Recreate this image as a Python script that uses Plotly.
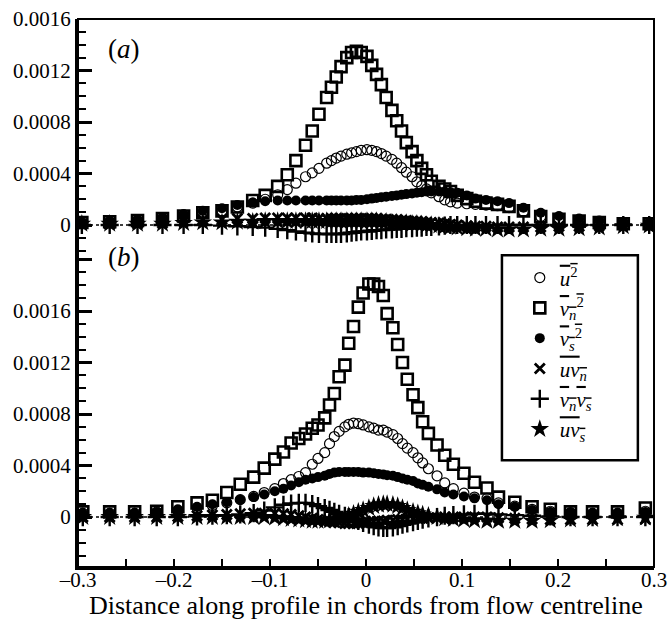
import plotly.graph_objects as go

# ---------------- data (y values in units of 1e-4) ----------------
X_A = [-0.296, -0.267, -0.238, -0.212, -0.190, -0.170, -0.150, -0.134, -0.118, -0.105,
       -0.092, -0.082, -0.073, -0.063, -0.056, -0.049, -0.041, -0.036, -0.031, -0.026,
       -0.020, -0.015, -0.010, -0.005, 0.001, 0.006, 0.011, 0.016, 0.021, 0.027,
       0.032, 0.037, 0.042, 0.048, 0.053, 0.058, 0.063, 0.068, 0.076, 0.082,
       0.088, 0.095, 0.105, 0.114, 0.125, 0.137, 0.149, 0.164, 0.182, 0.201,
       0.222, 0.243, 0.268, 0.295]

A_U2 = [0.2, 0.25, 0.35, 0.5, 0.7, 0.9, 1.1, 1.4, 1.7, 2.0,
        2.35, 2.75, 3.25, 3.75, 4.05, 4.4, 4.8, 5.0, 5.2, 5.35,
        5.5, 5.6, 5.7, 5.8, 5.85, 5.8, 5.7, 5.55, 5.35, 5.1,
        4.8, 4.45, 4.1, 3.75, 3.35, 3.05, 2.8, 2.5, 2.2, 1.95,
        1.8, 1.7, 1.65, 1.6, 1.55, 1.5, 1.35, 1.05, 0.65, 0.45,
        0.3, 0.2, 0.1, 0.1]
A_VN2 = [0.2, 0.25, 0.35, 0.5, 0.7, 0.95, 1.1, 1.4, 1.9, 2.3,
         3.0, 3.9, 5.0, 6.2, 7.3, 8.6, 9.9, 10.7, 11.5, 12.3,
         13.0, 13.4, 13.5, 13.4, 13.1, 12.4, 11.7, 10.9, 9.9, 8.9,
         8.1, 7.3, 6.4, 5.7, 5.0, 4.4, 3.9, 3.4, 3.0, 2.8,
         2.6, 2.3, 2.05, 1.85, 1.7, 1.6, 1.45, 1.1, 0.65, 0.45,
         0.3, 0.2, 0.1, 0.1]
A_VS2 = [0.2, 0.3, 0.4, 0.6, 0.85, 1.1, 1.3, 1.55, 1.75, 1.85,
         1.9, 1.9, 1.9, 1.9, 1.9, 1.9, 1.9, 1.9, 1.9, 1.9,
         1.9, 1.9, 1.95, 1.95, 2.0, 2.05, 2.1, 2.15, 2.2, 2.25,
         2.3, 2.35, 2.4, 2.45, 2.5, 2.55, 2.6, 2.6, 2.6, 2.6,
         2.55, 2.5, 2.3, 2.05, 1.95, 1.85, 1.7, 1.35, 0.95, 0.7,
         0.5, 0.35, 0.2, 0.15]
A_UVN = [0.05, 0.05, 0.1, 0.15, 0.3, 0.4, 0.45, 0.5, 0.5, 0.55,
         0.55, 0.55, 0.55, 0.55, 0.55, 0.5, 0.5, 0.5, 0.5, 0.5,
         0.5, 0.5, 0.5, 0.5, 0.5, 0.5, 0.5, 0.45, 0.45, 0.4,
         0.4, 0.35, 0.35, 0.3, 0.3, 0.25, 0.2, 0.2, 0.15, 0.1,
         0.05, 0.0, -0.05, -0.1, -0.1, -0.15, -0.15, -0.15, -0.15, -0.1,
         -0.1, -0.05, 0.0, 0.0]
A_VNVS = [0.0, 0.0, 0.0, 0.0, 0.0, 0.0, -0.05, -0.1, -0.15, -0.2,
          -0.3, -0.4, -0.5, -0.6, -0.65, -0.7, -0.7, -0.7, -0.7, -0.7,
          -0.65, -0.6, -0.55, -0.5, -0.5, -0.45, -0.4, -0.4, -0.35, -0.35,
          -0.3, -0.3, -0.25, -0.25, -0.2, -0.2, -0.15, -0.15, -0.1, -0.05,
          0.0, 0.0, 0.0, 0.0, 0.0, 0.0, 0.0, 0.0, 0.0, 0.0,
          0.0, 0.0, 0.0, 0.0]
A_UVS = [0.1, 0.1, 0.1, 0.1, 0.15, 0.2, 0.2, 0.25, 0.25, 0.3,
         0.3, 0.3, 0.3, 0.3, 0.3, 0.3, 0.3, 0.3, 0.3, 0.3,
         0.3, 0.3, 0.3, 0.3, 0.3, 0.3, 0.3, 0.25, 0.25, 0.2,
         0.2, 0.15, 0.15, 0.1, 0.1, 0.05, 0.0, 0.0, -0.05, -0.1,
         -0.15, -0.2, -0.25, -0.3, -0.3, -0.35, -0.35, -0.35, -0.3, -0.3,
         -0.25, -0.2, -0.1, -0.05]

X_B = [-0.295, -0.267, -0.241, -0.218, -0.196, -0.176, -0.160, -0.145, -0.131, -0.117,
       -0.106, -0.095, -0.086, -0.078, -0.070, -0.063, -0.056, -0.050, -0.043, -0.038,
       -0.033, -0.028, -0.022, -0.018, -0.013, -0.008, -0.003, 0.003, 0.008, 0.013,
       0.018, 0.022, 0.028, 0.033, 0.038, 0.043, 0.049, 0.054, 0.059, 0.065,
       0.074, 0.082, 0.091, 0.102, 0.113, 0.126, 0.138, 0.155, 0.173, 0.192,
       0.213, 0.236, 0.262, 0.291]

B_U2 = [0.3, 0.3, 0.3, 0.4, 0.5, 0.7, 0.9, 1.1, 1.35, 1.6,
        1.9, 2.2, 2.6, 2.9, 3.15, 3.45, 4.1, 4.55, 5.0, 5.7,
        6.25, 6.65, 7.0, 7.2, 7.3, 7.25, 7.15, 7.0, 6.9, 6.75,
        6.75, 6.6, 6.4, 6.1, 5.7, 5.35, 5.0, 4.6, 4.2, 3.75,
        3.2, 2.65, 2.2, 1.85, 1.55, 1.45, 1.1, 0.85, 0.6, 0.45,
        0.35, 0.3, 0.3, 0.45]
B_VN2 = [0.4, 0.4, 0.4, 0.45, 0.8, 1.1, 1.3, 1.9, 2.55, 3.1,
         3.8, 4.5, 5.05, 5.75, 6.1, 6.45, 6.9, 7.15, 7.7, 8.7,
         9.6, 10.9, 11.8, 13.5, 14.8, 16.3, 17.4, 18.1, 18.1, 17.9,
         17.2, 15.8, 14.7, 13.4, 12.0, 10.7, 9.5, 8.5, 7.4, 6.5,
         5.6, 4.8, 4.1, 3.4, 2.7, 2.25, 1.55, 1.15, 0.8, 0.6,
         0.4, 0.4, 0.4, 0.7]
B_VS2 = [0.3, 0.3, 0.3, 0.4, 0.6, 0.8, 1.0, 1.15, 1.35, 1.55,
         1.75, 2.0, 2.2, 2.45, 2.7, 2.9, 3.0, 3.1, 3.2, 3.35,
         3.45, 3.5, 3.5, 3.5, 3.5, 3.5, 3.45, 3.45, 3.4, 3.35,
         3.3, 3.25, 3.2, 3.1, 3.0, 2.9, 2.8, 2.6, 2.5, 2.35,
         2.15, 1.9, 1.75, 1.6, 1.45, 1.3, 1.0, 0.8, 0.55, 0.4,
         0.35, 0.3, 0.3, 0.4]
B_UVN = [0.0, 0.0, 0.0, 0.0, 0.05, 0.1, 0.15, 0.2, 0.25, 0.3,
         0.3, 0.3, 0.25, 0.2, 0.1, 0.0, -0.1, -0.2, -0.3, -0.35,
         -0.4, -0.45, -0.5, -0.5, -0.5, -0.5, -0.45, -0.4, -0.35, -0.3,
         -0.3, -0.25, -0.25, -0.2, -0.2, -0.15, -0.15, -0.1, -0.1, -0.1,
         -0.05, 0.0, 0.0, 0.0, 0.0, 0.0, -0.05, -0.1, -0.15, -0.2,
         -0.2, -0.2, -0.2, -0.15]
B_VNVS = [0.0, 0.0, 0.0, 0.0, 0.0, 0.05, 0.1, 0.15, 0.2, 0.3,
          0.5, 0.75, 0.95, 1.05, 1.1, 1.1, 1.0, 0.85, 0.7, 0.55,
          0.4, 0.25, 0.1, 0.0, -0.15, -0.3, -0.45, -0.6, -0.7, -0.8,
          -0.85, -0.85, -0.8, -0.7, -0.6, -0.5, -0.4, -0.3, -0.2, -0.1,
          0.0, 0.1, 0.15, 0.2, 0.25, 0.25, 0.2, 0.15, 0.1, 0.05,
          0.0, 0.0, 0.0, 0.0]
B_UVS = [0.0, 0.0, 0.0, 0.0, 0.0, 0.0, 0.0, 0.0, 0.0, 0.0,
         0.0, -0.05, -0.1, -0.15, -0.2, -0.25, -0.3, -0.3, -0.3, -0.25,
         -0.2, -0.1, 0.0, 0.1, 0.25, 0.4, 0.55, 0.7, 0.85, 0.95,
         1.0, 1.0, 0.95, 0.85, 0.7, 0.55, 0.4, 0.3, 0.2, 0.1,
         0.0, -0.1, -0.15, -0.2, -0.25, -0.3, -0.3, -0.3, -0.3, -0.25,
         -0.2, -0.15, -0.1, -0.05]

X_TICKS = [-0.3, -0.2, -0.1, 0, 0.1, 0.2, 0.3]
X_TICK_TEXT = ["\u20130.3", "\u20130.2", "\u20130.1", "0", "0.1", "0.2", "0.3"]
YA_TICKS = [0, 4, 8, 12, 16]
YA_TICK_TEXT = ["0", "0.0004", "0.0008", "0.0012", "0.0016"]
YB_TICKS = [0, 4, 8, 12, 16, 20]
YB_TICK_TEXT = ["0", "0.0004", "0.0008", "0.0012", "0.0016", ""]
X_TITLE = "Distance along profile in chords from flow centreline"

OL = '<span style="text-decoration:overline">'
NAMES = [
    OL + "<i>u</i><sup>2</sup></span>",
    OL + "<i>v</i><sub><i>n</i></sub><sup>2</sup></span>",
    OL + "<i>v</i><sub><i>s</i></sub><sup>2</sup></span>",
    OL + "<i>uv</i><sub><i>n</i></sub></span>",
    OL + "<i>v</i><sub><i>n</i></sub><i>v</i><sub><i>s</i></sub></span>",
    OL + "<i>uv</i><sub><i>s</i></sub></span>",
]

FONT = "Liberation Serif"
BLACK = "#000000"

STYLES = [
    dict(symbol="circle-open", size=10, line=dict(width=1.2, color=BLACK), color=BLACK),
    dict(symbol="square-open", size=11, line=dict(width=2.6, color=BLACK), color=BLACK),
    dict(symbol="circle", size=10, line=dict(width=0, color=BLACK), color=BLACK),
    dict(symbol="x-thin-open", size=10, line=dict(width=2.8, color=BLACK), color=BLACK),
    dict(symbol="cross-thin-open", size=13, line=dict(width=2.4, color=BLACK), color=BLACK),
    dict(symbol="star", size=14, line=dict(width=0, color=BLACK), color=BLACK),
]

fig = go.Figure()

series_a = [A_U2, A_VN2, A_VS2, A_UVN, A_VNVS, A_UVS]
series_b = [B_U2, B_VN2, B_VS2, B_UVN, B_VNVS, B_UVS]
order = [3, 4, 5, 2, 0, 1]
for i in order:
    fig.add_trace(go.Scatter(x=X_A, y=series_a[i], mode="markers", marker=STYLES[i],
                             xaxis="x2", yaxis="y", showlegend=False, name=NAMES[i]))
for i in range(6):
    fig.add_trace(go.Scatter(x=X_B, y=series_b[i], mode="markers", marker=STYLES[i],
                             xaxis="x", yaxis="y2", showlegend=True, name=NAMES[i]))

TICKFONT = dict(family=FONT, size=21, color=BLACK)
SPLIT = 0.5712
fig.update_layout(
    width=670, height=632,
    margin=dict(l=78, r=16, t=19, b=65, autoexpand=False),
    paper_bgcolor="white", plot_bgcolor="white",
    font=dict(family=FONT, size=21, color=BLACK),
    xaxis=dict(domain=[0, 1], anchor="y2", range=[-0.3, 0.3], automargin=False,
               tickmode="array", tickvals=X_TICKS, ticktext=X_TICK_TEXT,
               ticks="inside", ticklen=8, tickwidth=2, tickcolor=BLACK,
               minor=dict(tickmode="linear", tick0=-0.25, dtick=0.1, ticks="inside",
                          ticklen=8, tickwidth=2, tickcolor=BLACK),
               showline=True, linewidth=2.5, linecolor=BLACK, mirror=False,
               showgrid=False, zeroline=False, ticklabelstandoff=-8,
               tickfont=dict(family=FONT, size=21, color=BLACK)),
    xaxis2=dict(domain=[0, 1], anchor="y", range=[-0.3, 0.3], matches="x",
                showticklabels=False, ticks="", showline=False, showgrid=False,
                zeroline=False, automargin=False),
    yaxis=dict(domain=[SPLIT, 1], anchor="x2", range=[-2.25, 16.0], automargin=False,
               tickmode="array", tickvals=YA_TICKS, ticktext=YA_TICK_TEXT,
               ticks="inside", ticklen=14, tickwidth=2.5, tickcolor=BLACK,
               minor=dict(tickmode="linear", tick0=0, dtick=1, ticks="inside",
                          ticklen=8, tickwidth=2, tickcolor=BLACK),
               showline=True, linewidth=3, linecolor=BLACK,
               showgrid=False, zeroline=False, tickfont=TICKFONT),
    yaxis2=dict(domain=[0, SPLIT], anchor="x", range=[-3.88, 20.43], automargin=False,
                tickmode="array", tickvals=YB_TICKS, ticktext=YB_TICK_TEXT,
                ticks="inside", ticklen=14, tickwidth=2.5, tickcolor=BLACK,
                minor=dict(tickmode="linear", tick0=0, dtick=1, ticks="inside",
                           ticklen=8, tickwidth=2, tickcolor=BLACK),
                showline=True, linewidth=3, linecolor=BLACK,
                showgrid=False, zeroline=False, tickfont=TICKFONT),
    legend=dict(x=0.767, y=0.565, xanchor="left", yanchor="top",
                bgcolor="rgba(255,255,255,0)", borderwidth=0,
                font=dict(family=FONT, size=21, color=BLACK),
                itemwidth=30, tracegroupgap=0),
    shapes=[
        dict(type="rect", xref="paper", yref="paper", x0=0, x1=1, y0=0, y1=1,
             line=dict(color=BLACK, width=2)),
        dict(type="line", xref="paper", yref="y", x0=0, x1=1, y0=0, y1=0,
             line=dict(color=BLACK, width=1.5, dash="dot")),
        dict(type="line", xref="paper", yref="y2", x0=0, x1=1, y0=0, y1=0,
             line=dict(color=BLACK, width=1.5, dash="dot")),
        dict(type="rect", xref="paper", yref="paper", x0=0.736, x1=0.972,
             y0=0.195, y1=0.569, line=dict(color=BLACK, width=2.5),
             fillcolor="rgba(0,0,0,0)"),
    ],
    annotations=[
        dict(text="(<i>a</i>)", xref="paper", yref="paper", x=0.048, y=0.945,
             xanchor="left", yanchor="middle", showarrow=False,
             font=dict(family=FONT, size=27, color=BLACK)),
        dict(text="(<i>b</i>)", xref="paper", yref="paper", x=0.048, y=0.566,
             xanchor="left", yanchor="middle", showarrow=False,
             font=dict(family=FONT, size=27, color=BLACK)),
        dict(text=X_TITLE, xref="paper", yref="paper", x=0.5, y=-0.071,
             xanchor="center", yanchor="middle", showarrow=False,
             font=dict(family=FONT, size=26, color=BLACK)),
    ],
)

# remove the default 8 px page margin so the figure fills the window exactly
fig.write_html("out.html", config={"displayModeBar": False},
               post_script="document.body.style.margin='0';")
